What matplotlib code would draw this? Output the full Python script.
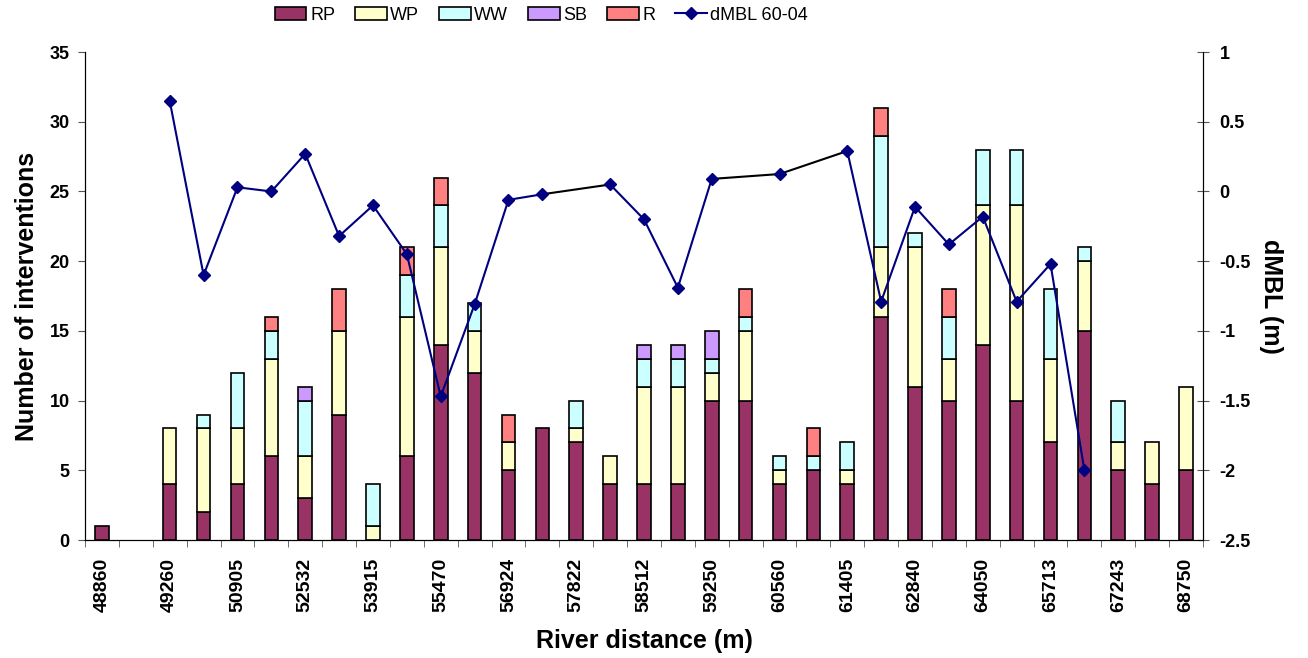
import numpy as np
import matplotlib.pyplot as plt
from matplotlib.ticker import FuncFormatter

plt.rcParams['font.family'] = ['Liberation Sans', 'DejaVu Sans']
plt.rcParams['axes.unicode_minus'] = False

# category labels (only every second one is printed on the chart)
distance = ["48860", "", "49260", "", "50905", "", "52532", "", "53915", "",
            "55470", "", "56924", "", "57822", "", "58512", "", "59250", "",
            "60560", "", "61405", "", "62840", "", "64050", "", "65713", "",
            "67243", "", "68750"]

RP = [1, 0, 4, 2, 4, 6, 3, 9, 0, 6, 14, 12, 5, 8, 7, 4, 4, 4, 10, 10, 4, 5, 4,
      16, 11, 10, 14, 10, 7, 15, 5, 4, 5]
WP = [0, 0, 4, 6, 4, 7, 3, 6, 1, 10, 7, 3, 2, 0, 1, 2, 7, 7, 2, 5, 1, 0, 1,
      5, 10, 3, 10, 14, 6, 5, 2, 3, 6]
WW = [0, 0, 0, 1, 4, 2, 4, 0, 3, 3, 3, 2, 0, 0, 2, 0, 2, 2, 1, 1, 1, 1, 2,
      8, 1, 3, 4, 4, 5, 1, 3, 0, 0]
SB = [0, 0, 0, 0, 0, 0, 1, 0, 0, 0, 0, 0, 0, 0, 0, 0, 1, 1, 2, 0, 0, 0, 0,
      0, 0, 0, 0, 0, 0, 0, 0, 0, 0]
R = [0, 0, 0, 0, 0, 1, 0, 3, 0, 2, 2, 0, 2, 0, 0, 0, 0, 0, 0, 2, 0, 2, 0,
     2, 0, 2, 0, 0, 0, 0, 0, 0, 0]

# dMBL 60-04 (m), None = no value
dMBL = [None, None, 0.65, -0.6, 0.03, 0.0, 0.27, -0.32, -0.1, -0.45, -1.47,
        -0.81, -0.06, -0.02, None, 0.05, -0.2, -0.69, 0.09, None, 0.125, None,
        0.29, -0.79, -0.11, -0.38, -0.18, -0.79, -0.52, -2.0, None, None, None]

series = [("RP", RP, "#993366"), ("WP", WP, "#FFFFCC"), ("WW", WW, "#CCFFFF"),
          ("SB", SB, "#CC99FF"), ("R", R, "#FF8080")]

fig = plt.figure(figsize=(13.08, 6.58), dpi=100)
ax = fig.add_axes([0.065, 0.1793, 0.8547, 0.7416])

x = np.arange(len(distance))
bottom = np.zeros(len(x))
handles = []
for name, vals, col in series:
    vals = np.array(vals, dtype=float)
    m = vals > 0  # no outline for empty segments
    b = ax.bar(x[m], vals[m], 0.4, bottom=bottom[m], color=col, edgecolor="black",
               linewidth=1.2, label=name)
    handles.append(b)
    bottom += vals

ax.set_xlim(-0.5, len(x) - 0.5)
ax.set_ylim(0, 35)
ax.set_yticks(np.arange(0, 36, 5))
ax.set_xticks(x)
ax.set_xticklabels(distance, rotation=90, fontsize=14, fontweight="bold")
ax.tick_params(axis="x", which="major", length=0, pad=13)
ax.set_xticks(np.arange(-0.5, len(x), 1), minor=True)
ax.tick_params(axis="x", which="minor", length=5, color="#555555")
ax.tick_params(axis="y", labelsize=13, length=5, pad=6, color="#555555")
for t in ax.get_yticklabels():
    t.set_fontweight("bold")
ax.spines["top"].set_visible(False)
ax.set_ylabel("Number of interventions", fontsize=18, fontweight="bold", labelpad=8)
ax.set_xlabel("River distance (m)", fontsize=18, fontweight="bold", labelpad=12)

ax2 = ax.twinx()
y2 = np.array([np.nan if v is None else v for v in dMBL])
ax2.plot(x, y2, color="#000080", lw=1.5, zorder=3)
# segments across missing values are drawn in black
idx = [i for i, v in enumerate(dMBL) if v is not None]
for a, b in zip(idx[:-1], idx[1:]):
    if b - a > 1:
        ax2.plot([x[a], x[b]], [dMBL[a], dMBL[b]], color="black", lw=1.5, zorder=2)
ax2.plot(x, y2, color="#000080", lw=0, marker="D", ms=6, zorder=4)
line_handle, = ax2.plot([], [], color="#000080", lw=1.5, marker="D", ms=6)
ax2.set_ylim(-2.5, 1)
ax2.set_yticks(np.arange(-2.5, 1.01, 0.5))
ax2.yaxis.set_major_formatter(FuncFormatter(lambda v, p: "{:g}".format(round(v, 2))))
ax2.tick_params(axis="y", labelsize=13, length=8, pad=8, direction="inout", color="#555555")
for t in ax2.get_yticklabels():
    t.set_fontweight("bold")
ax2.spines["top"].set_visible(False)
ax2.set_ylabel("dMBL (m)", fontsize=18, fontweight="bold", rotation=-90, labelpad=23)

fig.legend(handles + [line_handle], ["RP", "WP", "WW", "SB", "R", "dMBL 60-04"],
           loc="center", bbox_to_anchor=(0.414, 0.977), ncol=6, frameon=False,
           fontsize=13, handlelength=1.75, handleheight=0.75, columnspacing=1.1,
           handletextpad=0.2)

fig.savefig("out.png", dpi=100)
